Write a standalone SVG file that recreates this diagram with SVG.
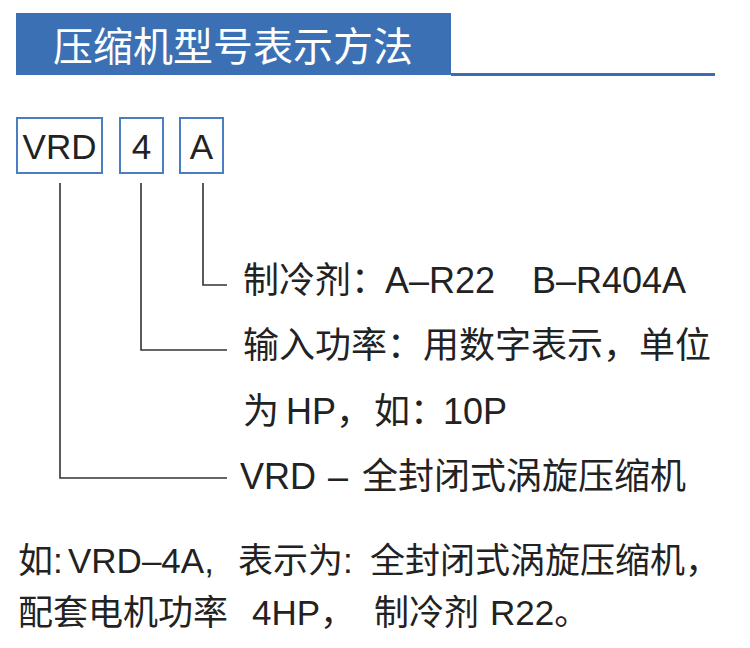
<svg xmlns="http://www.w3.org/2000/svg" width="750" height="648" viewBox="0 0 750 648">
<style>
.t{font-family:"Liberation Sans","Noto Sans CJK SC",sans-serif;fill:#222;}
.box{fill:#fff;stroke:#4a7dc2;stroke-width:2;}
.ln{fill:none;stroke:#333;stroke-width:1.6;}
</style>
<rect width="750" height="648" fill="#fff"/>
<g id="header">
<rect x="16" y="13" width="435" height="62" fill="#3b71b4"/>
<rect x="451" y="73" width="264" height="3" fill="#3b6db0"/>
<text x="53" y="61" font-family="'Noto Sans CJK SC',sans-serif" font-size="40" fill="#fff">压缩机型号表示方法</text>
</g>
<g id="box-vrd">
<rect class="box" x="17" y="118" width="85" height="55"/>
<text class="t" x="59.5" y="159" font-size="35" text-anchor="middle">VRD</text>
</g>
<g id="box-4">
<rect class="box" x="120" y="118" width="43" height="55"/>
<text class="t" x="141.5" y="159" font-size="35" text-anchor="middle">4</text>
</g>
<g id="box-a">
<rect class="box" x="180" y="118" width="43" height="55"/>
<text class="t" x="201.5" y="159" font-size="35" text-anchor="middle">A</text>
</g>
<g id="connectors">
<polyline class="ln" points="203,183 203,285 227,285"/>
<polyline class="ln" points="141,183 141,350 227,350"/>
<polyline class="ln" points="60,183 60,478 227,478"/>
</g>
<g id="label-a">
<text class="t" y="293" font-size="36"><tspan x="243">制冷剂：</tspan><tspan x="385">A–R22</tspan><tspan x="532">B–R404A</tspan></text>
</g>
<g id="label-4">
<text class="t" x="243" y="358" font-size="36">输入功率：用数字表示，单位</text>
<text class="t" y="424" font-size="36"><tspan x="243">为</tspan><tspan x="286">HP，</tspan><tspan x="374">如：</tspan><tspan x="443">10P</tspan></text>
</g>
<g id="label-vrd">
<text class="t" y="489" font-size="36"><tspan x="240">VRD</tspan><tspan x="328">–</tspan><tspan x="362">全封闭式涡旋压缩机</tspan></text>
</g>
<g id="example">
<text class="t" y="573" font-size="35"><tspan x="18">如:</tspan><tspan x="68">VRD–4A,</tspan><tspan x="238">表示为:</tspan><tspan x="370">全封闭式涡旋压缩机，</tspan></text>
<text class="t" y="625" font-size="35"><tspan x="18">配套电机功率</tspan><tspan x="252">4HP，</tspan><tspan x="374">制冷剂</tspan><tspan x="490">R22。</tspan></text>
</g>
</svg>
